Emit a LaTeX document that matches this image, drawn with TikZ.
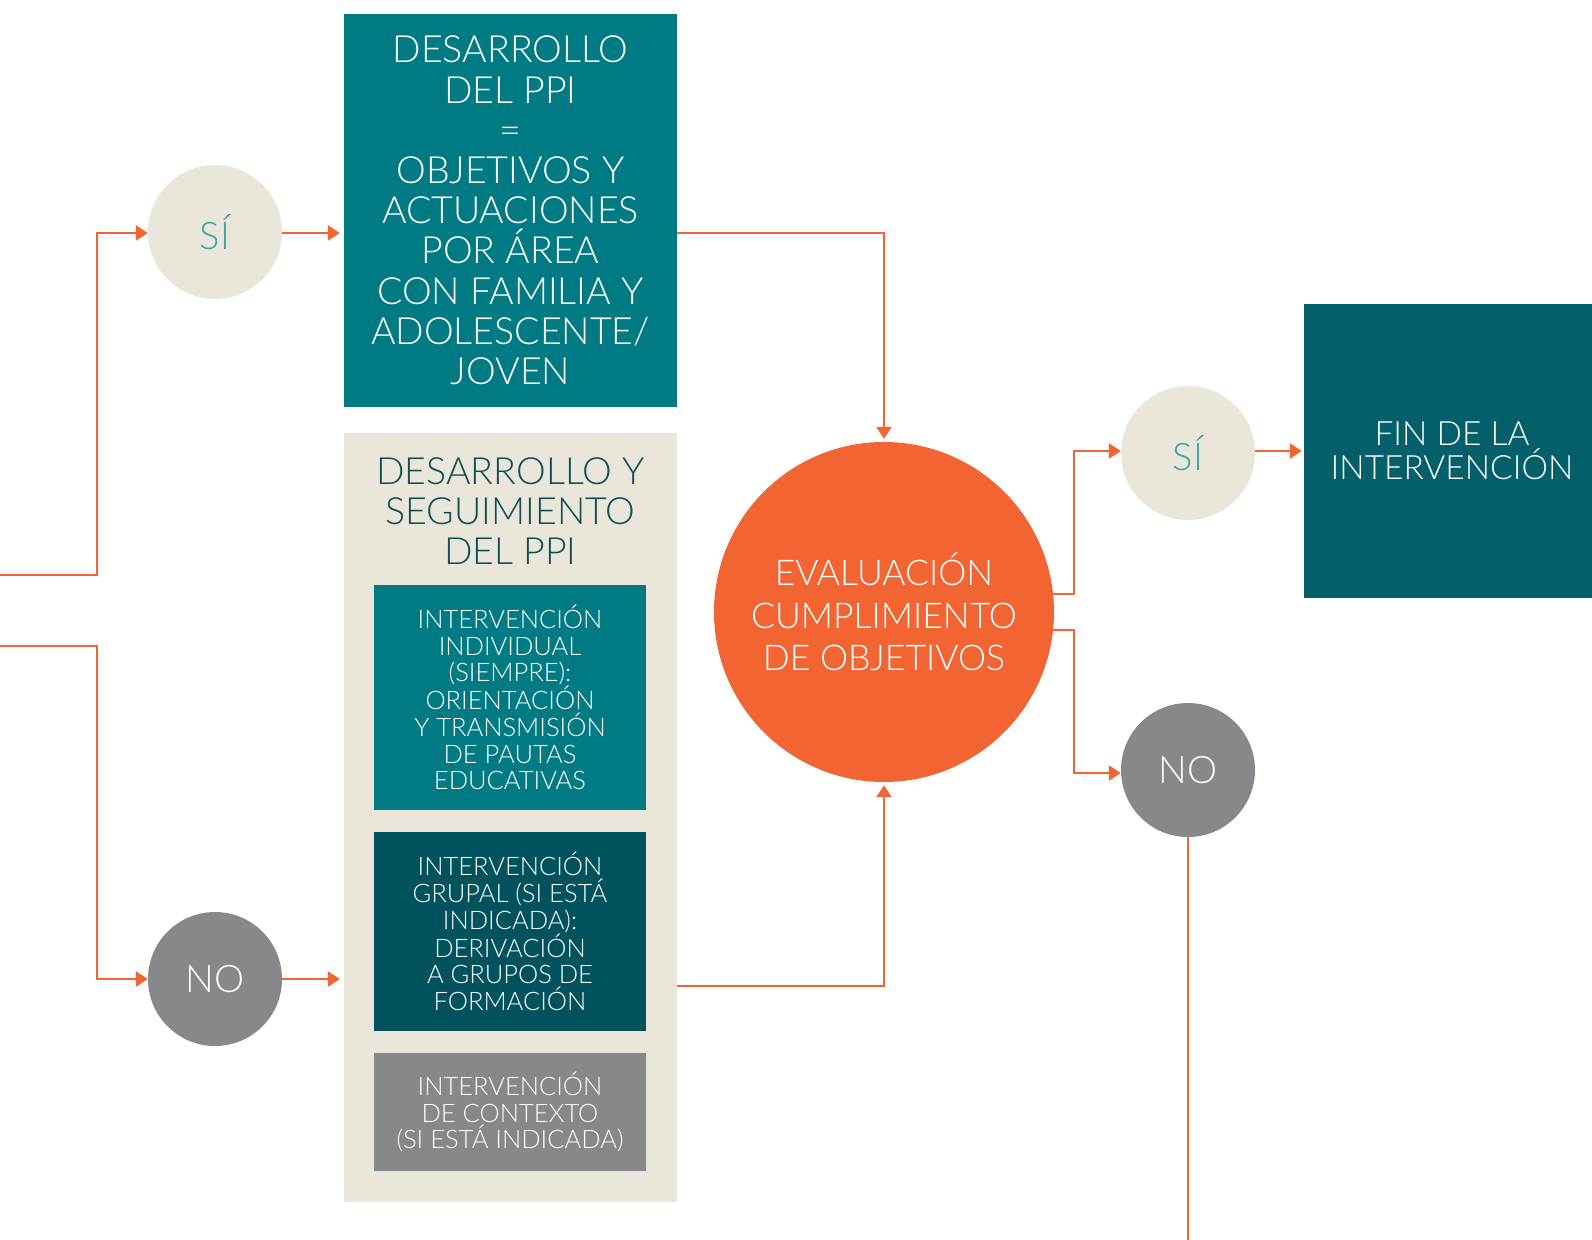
\documentclass[tikz,border=0pt]{standalone}
\usepackage{fontspec}
\setmainfont{Lato}[UprightFont={* Light}]
\usetikzlibrary{arrows.meta,calc}
\definecolor{tealA}{HTML}{007B84}
\definecolor{tealB}{HTML}{00525C}
\definecolor{tealC}{HTML}{035F6A}
\definecolor{beige}{HTML}{EAE6DA}
\definecolor{greyC}{HTML}{87888C}
\definecolor{orng}{HTML}{F26532}
\definecolor{sitxt}{HTML}{3BA5AA}
\definecolor{titletxt}{HTML}{0E4F57}
\begin{document}
\begin{tikzpicture}[x=1pt,y=-1pt,
  conn/.style={draw=orng,line width=2.6pt},
  arr/.style={conn,-{Triangle[length=12pt,width=15pt]}},
  box/.style={rectangle,inner sep=0pt,align=center,text=white},
  smallcirc/.style={circle,inner sep=0pt,minimum size=134pt,font=\fontsize{38}{40}\selectfont},
  bigtxt/.style={font=\fontsize{37.5}{40.2}\selectfont},
  midtxt/.style={font=\fontsize{25.5}{26.7}\selectfont}]
\useasboundingbox (0,0) rectangle (1592,1239);
% main boxes
\node[box,fill=tealA,minimum width=333pt,minimum height=393pt,bigtxt] (ppi) at (510.5,210.5)
  {DESARROLLO\\DEL PPI\\=\\OBJETIVOS Y\\ACTUACIONES\\POR ÁREA\\CON FAMILIA Y\\ADOLESCENTE/\\JOVEN};
\node[rectangle,fill=beige,inner sep=0pt,minimum width=333pt,minimum height=769pt] (panel) at (510.5,817.5) {};
\node[align=center,text=titletxt,inner sep=0pt,bigtxt] (ptitle) at (510.5,511)
  {DESARROLLO Y\\SEGUIMIENTO\\DEL PPI};
\node[box,fill=tealA,minimum width=272pt,minimum height=225pt,midtxt] (ind) at (510,697.5)
  {INTERVENCIÓN\\INDIVIDUAL\\(SIEMPRE):\\ORIENTACIÓN\\Y TRANSMISIÓN\\DE PAUTAS\\EDUCATIVAS};
\node[box,fill=tealB,minimum width=272pt,minimum height=199pt,midtxt] (grp) at (510,931.5)
  {INTERVENCIÓN\\GRUPAL (SI ESTÁ\\INDICADA):\\DERIVACIÓN\\A GRUPOS DE\\FORMACIÓN};
\node[box,fill=greyC,minimum width=272pt,minimum height=118pt,midtxt] (ctx) at (510,1112)
  {INTERVENCIÓN\\DE CONTEXTO\\(SI ESTÁ INDICADA)};
% circles
\node[smallcirc,fill=beige,text=sitxt] (siL) at (215,232) {SÍ};
\node[smallcirc,fill=greyC,text=white] (noL) at (215,979) {NO};
\node[circle,inner sep=0pt,minimum size=340pt,fill=orng,text=white,align=center,
  font=\fontsize{35.5}{42.6}\selectfont] (ev) at (884,612) {EVALUACIÓN\\CUMPLIMIENTO\\DE OBJETIVOS};
\node[smallcirc,fill=beige,text=sitxt] (siR) at (1188,453) {SÍ};
\node[smallcirc,fill=greyC,text=white] (noR) at (1188,770) {NO};
\node[box,fill=tealC,minimum width=296pt,minimum height=294pt,font=\fontsize{33.5}{33.5}\selectfont] (fin) at (1452,451)
  {FIN DE LA\\INTERVENCIÓN};
% coordinates
\coordinate (inA) at (0,575);
\coordinate (inB) at (0,646);
\coordinate (jA) at (97,233);
\coordinate (jB) at (97,979);
\coordinate (pb) at (677,986);
\coordinate (e1) at ($(ev.center)+(169,-18)$);
\coordinate (e2) at ($(ev.center)+(169,18)$);
\coordinate (jR1) at (1074,451);
\coordinate (jR2) at (1074,773);
\coordinate (bot) at (0,1250);
% connectors
\draw[arr] (inA) -| (jA) -- (jA -| siL.west);
\draw[arr] (inB) -| (jB) -- (noL);
\draw[arr,shorten >=4pt] (siL.east |- jA) -- (jA -| ppi.west);
\draw[arr,shorten >=4pt] (noL) -- (noL -| panel.west);
\draw[arr,shorten >=3pt] (ppi.east |- jA) -| (ev.north);
\draw[arr,shorten >=3pt] (pb) -| (ev.south);
\draw[arr] (e1) -| (jR1) -- (jR1 -| siR.west);
\draw[arr] (e2) -| (jR2) -- (jR2 -| noR.west);
\draw[arr,shorten >=2pt] (siR.east |- jR1) -- (jR1 -| fin.west);
\draw[conn] (noR.south) -- (noR.south |- bot);
\end{tikzpicture}
\end{document}
